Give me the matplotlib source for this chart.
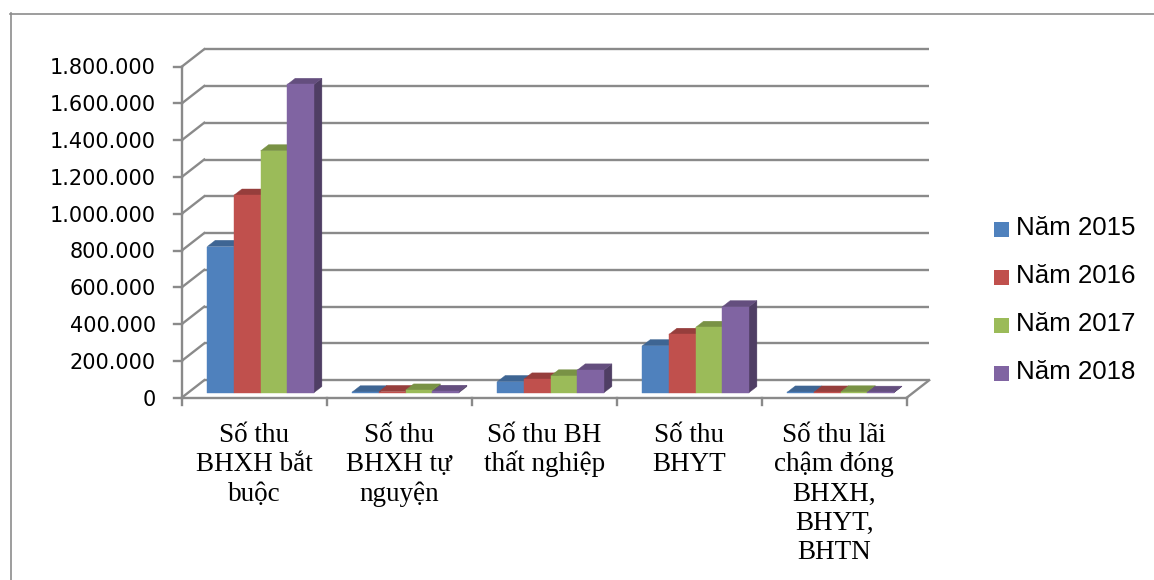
import numpy as np
import matplotlib
matplotlib.use("Agg")
import matplotlib.pyplot as plt
from matplotlib.patches import Polygon, Rectangle
from matplotlib.lines import Line2D
import matplotlib.colors as mcolors

# ---------------- data ----------------
categories = [
    "Số thu\nBHXH bắt\nbuộc",
    "Số thu\nBHXH tự\nnguyện",
    "Số thu BH\nthất nghiệp",
    "Số thu\nBHYT",
    "Số thu lãi\nchậm đóng\nBHXH,\nBHYT,\nBHTN",
]
series_names = ["Năm 2015", "Năm 2016", "Năm 2017", "Năm 2018"]
v2015 = [795000, 4000, 60000, 255000, 3000]
v2016 = [1074000, 6000, 74000, 317000, 3000]
v2017 = [1315000, 14000, 91000, 355000, 4000]
v2018 = [1676000, 7000, 123000, 467000, 2000]
series_values = [v2015, v2016, v2017, v2018]
yticks = [0, 200000, 400000, 600000, 800000, 1000000, 1200000, 1400000, 1600000, 1800000]
ytick_labels = ["0", "200.000", "400.000", "600.000", "800.000", "1.000.000",
                "1.200.000", "1.400.000", "1.600.000", "1.800.000"]

colors = ["#4F81BD", "#C0504D", "#9BBB59", "#8064A2"]

# ---------------- layout ----------------
W, H = 1154, 580
fig = plt.figure(figsize=(W / 100, H / 100), dpi=100)
ax = fig.add_axes([0, 0, 1, 1])
ax.axis("off")

X0, Y0 = 181.7, 397.7          # pixel position of the front-left origin (from top-left)
PXC = 145.0                    # px per category
PXV = 331.0 / 1800000.0        # px per value unit
ax.set_xlim(-X0 / PXC, (W - X0) / PXC)
ax.set_ylim(-(H - Y0) / PXV, Y0 / PXV)

DX = 22.5 / PXC
DY = 17.5 / PXV
ncat = len(categories)
nser = len(series_values)
bar_w = 26.65 / PXC
f0, f1 = 0.286, 0.64

gcol = "#8a8a8a"
glw = 1.7

# back wall and left wall gridlines
for v in yticks:
    ax.plot([DX, ncat + DX], [v + DY, v + DY], color=gcol, lw=glw, zorder=1,
            solid_capstyle="butt")
    ax.plot([0, DX], [v, v + DY], color=gcol, lw=glw, zorder=1)
    ax.plot([-8 / PXC, 0], [v, v], color=gcol, lw=glw, zorder=1)

# front vertical axis
ax.plot([0, 0], [0, yticks[-1]], color=gcol, lw=glw, zorder=1)
# floor
ax.plot([0, ncat], [0, 0], color=gcol, lw=glw, zorder=1)
ax.plot([ncat, ncat + DX], [0, DY], color=gcol, lw=glw, zorder=1)
for i in range(ncat + 1):
    ax.plot([i, i], [0, -7 / PXV], color=gcol, lw=glw, zorder=1)


def shade(c, f):
    r, g, b = mcolors.to_rgb(c)
    return (r * f, g * f, b * f)


ddx = (f1 - f0) * DX
ddy = (f1 - f0) * DY
yb = f0 * DY
z = 3
for i in range(ncat):
    for j in range(nser):
        v = series_values[j][i]
        c = colors[j]
        xl = i + 0.5 - nser / 2 * bar_w + j * bar_w + f0 * DX
        side = Polygon([(xl + bar_w, yb), (xl + bar_w + ddx, yb + ddy),
                        (xl + bar_w + ddx, yb + v + ddy), (xl + bar_w, yb + v)],
                       closed=True, facecolor=shade(c, 0.62), edgecolor=shade(c, 0.62),
                       lw=0.3, zorder=z)
        top = Polygon([(xl, yb + v), (xl + bar_w, yb + v),
                       (xl + bar_w + ddx, yb + v + ddy), (xl + ddx, yb + v + ddy)],
                      closed=True, facecolor=shade(c, 0.78), edgecolor=shade(c, 0.78),
                      lw=0.3, zorder=z + 0.1)
        front = Rectangle((xl, yb), bar_w, v, facecolor=c, edgecolor=c, lw=0.3,
                          zorder=z + 0.2)
        ax.add_patch(side)
        ax.add_patch(top)
        ax.add_patch(front)
        z += 1


def fx(x):
    return x / W


def fy(y):
    return 1 - y / H


# y tick labels
for v, lab in zip(yticks, ytick_labels):
    ypx = Y0 - v * PXV
    fig.text(fx(156), fy(ypx + 7.8), lab, ha="right", va="baseline",
             fontsize=15, family="DejaVu Sans", color="black")

# category labels
for i, lab in enumerate(categories):
    cx = X0 + (i + 0.5) * PXC
    for k, line in enumerate(lab.split("\n")):
        fig.text(fx(cx), fy(442 + k * 29.3), line, ha="center", va="baseline",
                 fontsize=19.5, family="Liberation Serif", color="black")

# legend
for j, name in enumerate(series_names):
    top_px = 222 + 48 * j
    fig.patches.append(Rectangle((fx(994), fy(top_px + 14.5)), 15 / W, 14.5 / H,
                                 transform=fig.transFigure, facecolor=colors[j],
                                 edgecolor="none"))
    fig.text(fx(1016), fy(235 + 48 * j), name, ha="left", va="baseline",
             fontsize=18.6, family="Liberation Sans", color="black")

# outer frame (top and left edges)
fig.lines.append(Line2D([fx(10.5), fx(10.5)], [fy(13), 0], transform=fig.transFigure,
                        color="#8c8c8c", lw=1.2))
fig.lines.append(Line2D([fx(10), 1], [fy(13.5), fy(13.5)], transform=fig.transFigure,
                        color="#8c8c8c", lw=1.2))

fig.savefig("out.png", dpi=100)
